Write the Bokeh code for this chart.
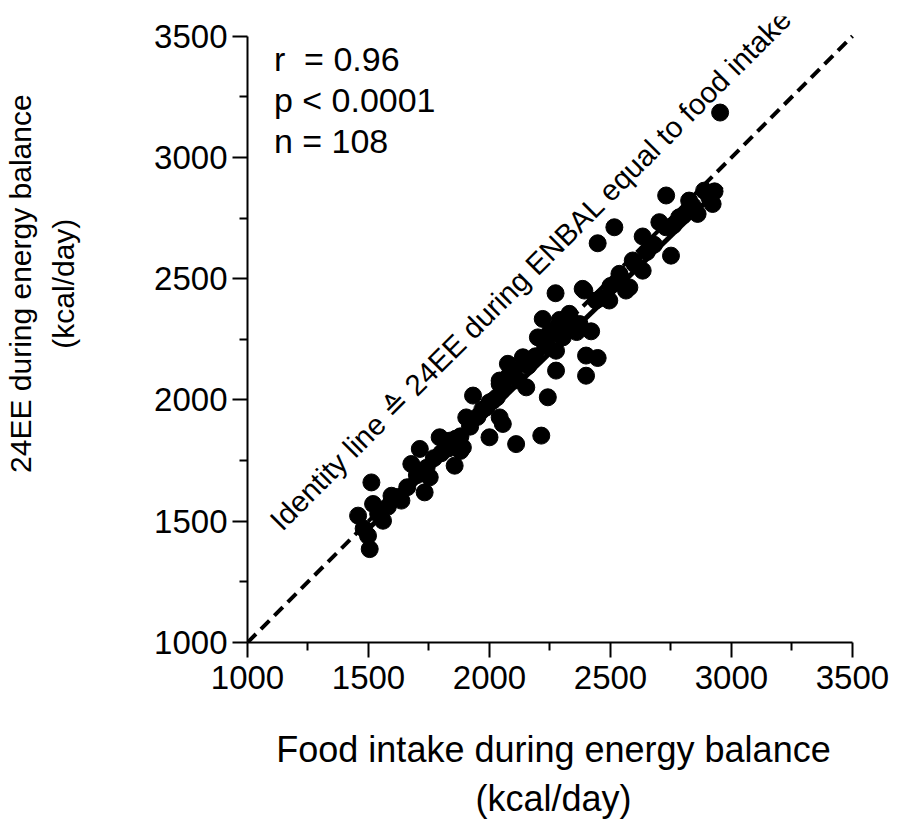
from bokeh.plotting import figure
from bokeh.models import FixedTicker, Range1d
from bokeh.core.properties import value
from bokeh.embed import file_html
from bokeh.resources import INLINE
import math

# ---- data (kcal/day) ----
food_intake = [1457, 1512, 1505, 1519, 1498, 1560, 1595, 1636, 1677, 1712,
               1732, 1753, 1794, 1835, 1856, 1890, 1904, 1932, 2000, 2014,
               2055, 2042, 2110, 2214, 2241, 2152, 1987, 2042, 2076, 2138,
               2042, 2200, 2220, 2330, 2273, 2392, 2420, 2275, 2399, 2447,
               2399, 2275, 2303, 2372, 2440, 2564, 2385, 2495, 2578, 2633,
               2592, 2537, 2447, 2516, 2633, 2702, 2750, 2730, 2825, 2922,
               2860, 2729, 2784, 2908, 2887, 2953, 1480, 1540, 1580, 1620,
               1660, 1700, 1740, 1770, 1800, 1830, 1860, 1880, 1920, 1950,
               1970, 2000, 2030, 2060, 2080, 2100, 2120, 2160, 2190, 2230,
               2250, 2280, 2310, 2340, 2360, 2290, 2240, 2460, 2500, 2540,
               2600, 2650, 2680, 2760, 2800, 2840, 2930, 1880]
ee_24h = [1523, 1660, 1385, 1571, 1440, 1502, 1605, 1585, 1736, 1798,
          1619, 1681, 1846, 1832, 1729, 1804, 1928, 2018, 1846, 1997,
          1901, 2066, 1818, 1853, 2011, 2052, 1969, 1928, 2149, 2176,
          2080, 2258, 2334, 2355, 2440, 2451, 2283, 2203, 2183, 2173,
          2100, 2121, 2258, 2313, 2410, 2451, 2458, 2410, 2464, 2533,
          2575, 2520, 2646, 2712, 2674, 2733, 2595, 2843, 2822, 2808,
          2767, 2712, 2753, 2836, 2863, 3185, 1470, 1530, 1560, 1600,
          1640, 1690, 1720, 1760, 1780, 1800, 1840, 1850, 1890, 1930,
          1960, 1990, 2010, 2050, 2100, 2120, 2080, 2140, 2180, 2220,
          2280, 2300, 2290, 2310, 2280, 2330, 2260, 2420, 2470, 2510,
          2560, 2610, 2640, 2720, 2760, 2800, 2860, 1790]

identity_x = [1000, 3500]
identity_y = [1000, 3500]
fit_x = [1470, 2960]
fit_y = [1440, 2880]

major_ticks = [1000, 1500, 2000, 2500, 3000, 3500]
minor_ticks = [1250, 1750, 2250, 2750, 3250]

stats_lines = ["r\u00a0 = 0.96", "p < 0.0001", "n = 108"]
stats_y = [3404, 3235, 3066]
identity_label = "Identity line \u2259 24EE during ENBAL equal to food intake"
x_title = "Food intake during energy balance\n(kcal/day)"
pad = "\u00a0" * 11  # shifts the centred y title upward, as in the reference
y_title = pad + "24EE during energy balance\n" + pad + "(kcal/day)"

FONT = "Liberation Sans"

p = figure(width=899, height=819, frame_width=612, frame_height=626,
           x_range=Range1d(1000, 3529), y_range=Range1d(1000, 3581),
           output_backend="svg", toolbar_location=None,
           min_border_left=247, min_border_top=16, min_border_right=40,
           min_border_bottom=177)
p.outline_line_color = None
p.xgrid.visible = False
p.ygrid.visible = False
p.background_fill_color = "white"
p.border_fill_color = "white"

for ax in (p.xaxis[0], p.yaxis[0]):
    ax.ticker = FixedTicker(ticks=major_ticks, minor_ticks=minor_ticks)
    ax.bounds = (1000, 3500)
    ax.axis_line_width = 2
    ax.axis_line_color = "black"
    ax.major_tick_line_width = 2
    ax.minor_tick_line_width = 2
    ax.major_tick_out = 15
    ax.major_tick_in = 0
    ax.minor_tick_out = 8
    ax.minor_tick_in = 0
    ax.major_label_text_font = FONT
    ax.major_label_text_font_size = "33px"
    ax.major_label_text_color = "black"
    ax.axis_label_text_font = FONT
    ax.axis_label_text_font_style = "normal"
    ax.axis_label_text_color = "black"

p.xaxis.axis_label = x_title
p.xaxis.axis_label_text_font_size = "36px"
p.yaxis.axis_label = y_title
p.yaxis.axis_label_text_font_size = "30px"
p.yaxis.axis_label_text_line_height = 1.3
p.xaxis.major_label_standoff = 8
p.yaxis.major_label_standoff = 5
p.xaxis.axis_label_standoff = 37
p.yaxis.axis_label_standoff = 71

p.line(identity_x, identity_y, line_color="black", line_width=4,
       line_dash="12 7")
p.line(fit_x, fit_y, line_color="black", line_width=5)
p.scatter(food_intake, ee_24h, size=17, fill_color="black", line_color="black")

p.text(x=[1109] * 3, y=stats_y, text=stats_lines, text_font=value(FONT),
       text_font_size="34px", text_color="black", text_baseline="alphabetic")

p.text(x=[1113], y=[1485], text=[identity_label], angle=math.pi / 4,
       text_font=value(FONT), text_font_size="29.5px", text_color="black",
       text_baseline="alphabetic", text_align="left")

open("out.html", "w").write(file_html(p, INLINE))
